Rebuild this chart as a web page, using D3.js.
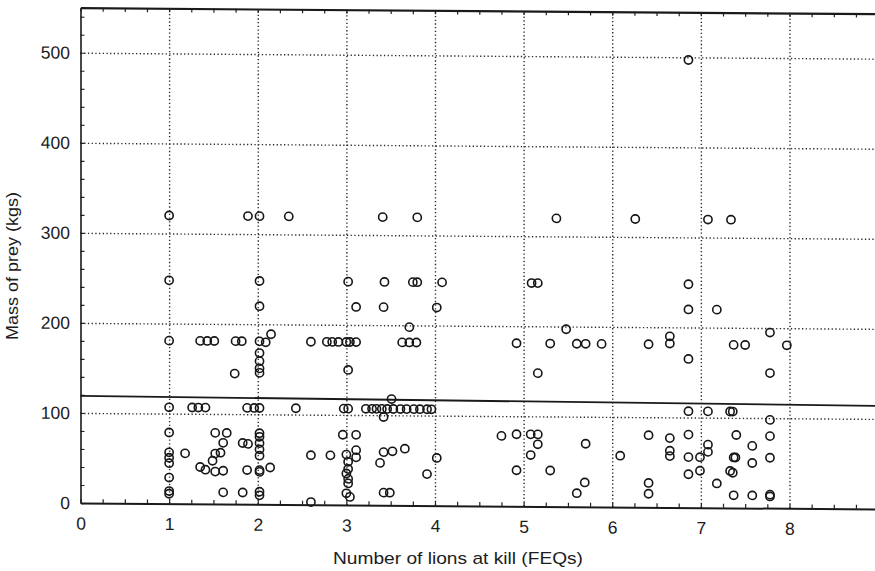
<!DOCTYPE html>
<html>
<head>
<meta charset="utf-8">
<script src="https://cdn.jsdelivr.net/npm/d3@7"></script>
<style>
  html, body { margin: 0; padding: 0; background: #fff; }
  svg { display: block; }
  text { font-family: "Liberation Sans", Arial, Helvetica, sans-serif; fill: #1c1c1c; }
</style>
</head>
<body>
<svg id="chart" width="875" height="571"></svg>
<script>
// Lions at a kill (female equivalents) against the mass of the prey
const lionsAtKill = [
  1.0, 1.0, 1.0, 1.0, 1.0, 1.0, 1.0, 1.0, 1.0, 1.0, 1.0,
  1.18, 1.35, 1.43, 1.51, 1.75, 1.82, 1.74, 1.26, 1.33, 1.41, 1.88, 1.96,
  1.35, 1.41, 1.49, 1.52, 1.58, 1.52, 1.61, 1.61, 1.52, 1.65, 1.61, 1.83, 1.83, 1.89, 1.88, 1.89,
  2.02, 2.02, 2.02, 2.02, 2.09, 2.15, 2.02, 2.02, 2.02, 2.02, 2.02, 2.02, 2.02, 2.02, 2.02, 2.02, 2.02, 2.02, 2.02, 2.02, 2.14,
  2.35, 2.43, 2.6, 2.78, 2.84, 2.91, 3.0, 3.04, 3.11, 2.6, 2.82, 2.6,
  3.02, 3.11, 3.02, 2.97, 3.02, 2.96, 3.11, 3.0, 3.11, 3.11, 3.02, 3.02, 3.0, 3.02, 3.02, 3.0, 3.04,
  3.41, 3.8, 3.43, 3.75, 3.8, 4.08, 3.42, 4.02, 3.71, 3.63, 3.71, 3.79, 3.51,
  3.22, 3.29, 3.34, 3.4, 3.46, 3.53, 3.61, 3.68, 3.76, 3.83, 3.91, 3.96,
  3.42, 3.42, 3.52, 3.38, 3.66, 3.42, 3.49, 4.02, 3.91,
  5.37, 5.09, 5.16, 5.48, 4.92, 5.3, 5.6, 5.7, 5.88, 5.16,
  4.75, 4.92, 5.08, 5.16, 5.16, 5.7, 5.08, 6.09, 4.92, 5.3, 5.69, 5.6,
  6.26, 7.08, 7.34, 6.86, 6.86, 6.86, 7.18, 6.41, 6.65, 6.65, 7.37, 7.5, 6.86, 7.78, 7.97, 7.78,
  6.86, 7.08, 7.33, 7.36, 7.78,
  6.41, 6.65, 6.86, 7.08, 6.65, 6.65, 6.86, 6.99, 7.08, 7.37, 7.39, 7.4, 7.58, 7.58,
  6.99, 6.86, 7.33, 7.36, 7.18, 6.41, 6.41, 7.37, 7.58, 7.78, 7.78, 7.78, 7.78
];
const preyMass = [
  320, 248, 181, 107, 79, 57, 51, 45, 29, 14, 11,
  56, 181, 181, 181, 181, 181, 145, 107, 107, 107, 107, 107,
  41, 38, 48, 56, 57, 36, 37, 68, 79, 79, 13, 13, 68, 67, 38, 320,
  320, 248, 220, 181, 180, 189, 168, 159, 151, 146, 107, 79, 75, 68, 61, 54, 38, 36, 14, 10, 41,
  320, 107, 181, 181, 181, 181, 181, 181, 181, 55, 55, 3,
  248, 220, 150, 107, 107, 78, 78, 56, 61, 53, 48, 40, 35, 29, 24, 13, 9,
  320, 320, 248, 248, 248, 248, 220, 220, 198, 181, 181, 181, 118,
  107, 107, 107, 107, 107, 107, 107, 107, 107, 107, 107, 107,
  98, 59, 60, 47, 63, 14, 14, 53, 35,
  320, 248, 248, 197, 181, 181, 181, 181, 181, 148,
  78, 80, 80, 80, 69, 70, 57, 57, 40, 40, 27, 15,
  320, 320, 320, 497, 248, 220, 220, 181, 190, 182, 181, 181, 165, 195, 181, 150,
  107, 107, 107, 107, 98,
  80, 77, 81, 70, 63, 57, 56, 56, 62, 56, 56, 81, 69, 50,
  41, 37, 41, 39, 27, 27, 15, 14, 14, 80, 56, 15, 13
];

// Least-squares fit drawn across the plot
const fitIntercept = 119;
const fitSlope = -0.5;

const xTickValues = [0, 1, 2, 3, 4, 5, 6, 7, 8];
const yTickValues = [0, 100, 200, 300, 400, 500];
const xGridValues = [1, 2, 3, 4, 5, 6, 7, 8];
const yGridValues = [100, 200, 300, 400, 500];

const xTitle = "Number of lions at kill (FEQs)";
const yTitle = "Mass of prey (kgs)";

const svg = d3.select("#chart");
const plotLeft = 80.5, plotW = 797.6, plotTop = 7.7, plotBottom = 503;

const x = d3.scaleLinear().domain([0, 9]).range([0, plotW]);
const y = d3.scaleLinear().domain([0, 550]).range([plotBottom, plotTop]);

// the printed figure leans slightly downward to the right
const plot = svg.append("g")
  .attr("transform", `translate(${plotLeft},0) skewY(0.43)`);

// dotted grid
const grid = plot.append("g").attr("class", "grid");
grid.append("g")
  .attr("transform", `translate(0,${plotBottom})`)
  .call(d3.axisBottom(x).tickValues(xGridValues).tickSize(-(plotBottom - plotTop)).tickFormat(""))
  .call(g => g.select(".domain").remove());
grid.append("g")
  .call(d3.axisLeft(y).tickValues(yGridValues).tickSize(-plotW).tickFormat(""))
  .call(g => g.select(".domain").remove());
grid.selectAll("line")
  .attr("stroke", "#2a2a2a")
  .attr("stroke-width", 1.4)
  .attr("stroke-dasharray", "1.3,2.4");

// minor ticks on the frame, pointing inward
const minorX = d3.range(0, 9.001, 0.25);
const minorY = d3.range(0, 551, 20);
const minor = plot.append("g").attr("class", "minor");
minor.append("g")
  .attr("transform", `translate(0,${plotBottom})`)
  .call(d3.axisBottom(x).tickValues(minorX).tickSize(-4).tickFormat(""))
  .call(g => g.select(".domain").remove());
minor.append("g")
  .attr("transform", `translate(0,${plotTop})`)
  .call(d3.axisTop(x).tickValues(minorX).tickSize(-4).tickFormat(""))
  .call(g => g.select(".domain").remove());
minor.append("g")
  .call(d3.axisLeft(y).tickValues(minorY).tickSize(-4).tickFormat(""))
  .call(g => g.select(".domain").remove());
minor.selectAll("line").attr("stroke", "#222").attr("stroke-width", 1.2);

// labelled axes
const xAxis = plot.append("g")
  .attr("transform", `translate(0,${plotBottom})`)
  .call(d3.axisBottom(x).tickValues(xTickValues).tickSize(0).tickPadding(14).tickFormat(d3.format("d")));
xAxis.select(".domain").attr("stroke", "#1a1a1a").attr("stroke-width", 2);
xAxis.selectAll("text").attr("font-size", 17.5).style("font-family", "'Liberation Sans', Arial, sans-serif").attr("fill", "#1c1c1c");

const yAxis = plot.append("g")
  .call(d3.axisLeft(y).tickValues(yTickValues).tickSize(0).tickPadding(10.5).tickFormat(d3.format("d")));
yAxis.select(".domain").attr("stroke", "#1a1a1a").attr("stroke-width", 1.6);
yAxis.selectAll("text").attr("font-size", 17.5).style("font-family", "'Liberation Sans', Arial, sans-serif").attr("fill", "#1c1c1c");

// top frame line
plot.append("g")
  .attr("transform", `translate(0,${plotTop})`)
  .call(d3.axisTop(x).tickValues([]).tickSizeOuter(0))
  .select(".domain").attr("stroke", "#1a1a1a").attr("stroke-width", 2.2);

// regression line
const fitLine = d3.line()
  .x(d => x(d))
  .y(d => y(fitIntercept + fitSlope * d));
plot.append("path")
  .datum(x.domain())
  .attr("d", fitLine)
  .attr("fill", "none")
  .attr("stroke", "#1a1a1a")
  .attr("stroke-width", 1.8);

// kills
plot.append("g")
  .selectAll("circle")
  .data(d3.zip(lionsAtKill, preyMass))
  .join("circle")
  .attr("cx", d => x(d[0]))
  .attr("cy", d => y(d[1]))
  .attr("r", 4.1)
  .attr("fill", "none")
  .attr("stroke", "#161616")
  .attr("stroke-width", 1.6);

// axis titles
svg.append("text")
  .attr("x", 458).attr("y", 564)
  .attr("text-anchor", "middle")
  .attr("font-size", 17)
  .attr("textLength", 250)
  .attr("lengthAdjust", "spacingAndGlyphs")
  .text(xTitle);

svg.append("text")
  .attr("transform", "translate(17.5,266) rotate(-90)")
  .attr("text-anchor", "middle")
  .attr("font-size", 17)
  .attr("textLength", 148)
  .attr("lengthAdjust", "spacingAndGlyphs")
  .text(yTitle);
</script>
</body>
</html>
